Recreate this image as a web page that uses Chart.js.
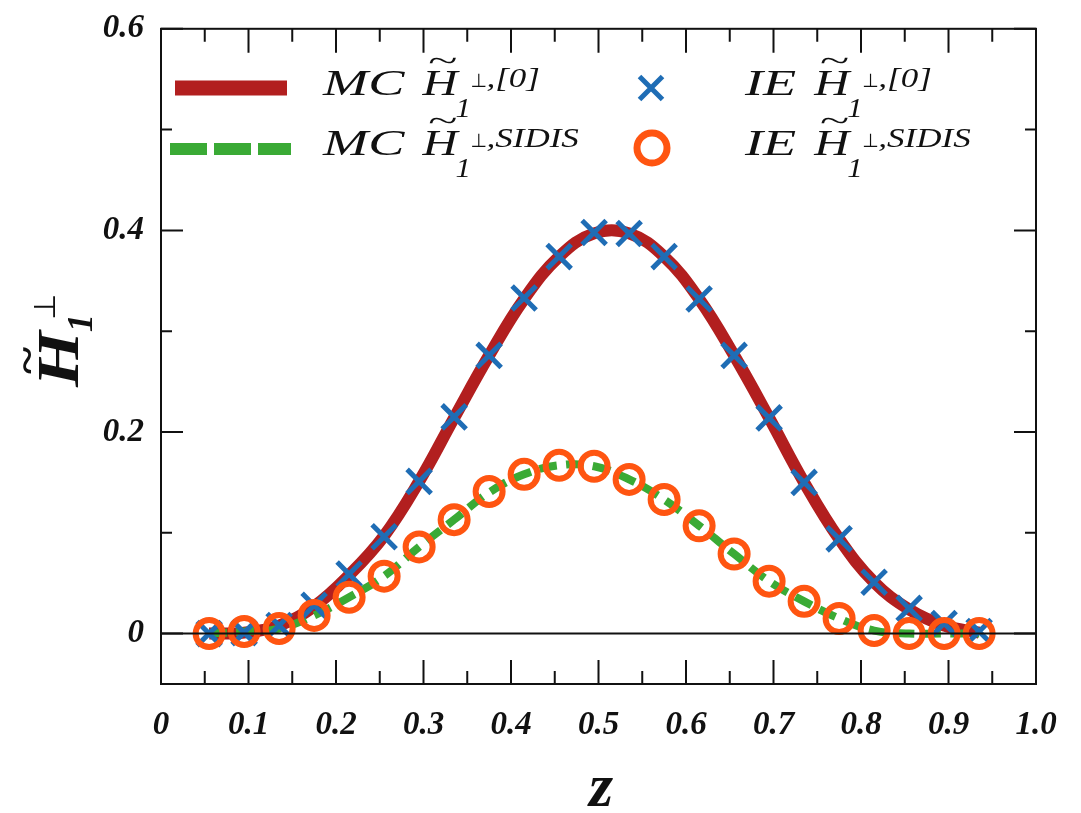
<!DOCTYPE html>
<html>
<head>
<meta charset="utf-8">
<script src="https://cdn.jsdelivr.net/npm/chart.js@4.4.1/dist/chart.umd.min.js"></script>
<style>
  html, body { margin: 0; padding: 0; background: #fff; }
</style>
</head>
<body>
<canvas id="grafico" width="1081" height="813"></canvas>
<script>
// z grid of the points
const zValores = [0.055, 0.095, 0.135, 0.175, 0.215, 0.255, 0.295, 0.335, 0.375, 0.415, 0.455, 0.495,
                  0.535, 0.575, 0.615, 0.655, 0.695, 0.735, 0.775, 0.815, 0.855, 0.895, 0.935];

// MC curves (lines)
const mcH0    = [0.000, 0.001, 0.008, 0.027, 0.058, 0.097, 0.151, 0.214, 0.276, 0.332, 0.374, 0.397,
                 0.397, 0.374, 0.332, 0.276, 0.214, 0.150, 0.094, 0.051, 0.024, 0.008, 0.001];
const mcSidis = [0.000, 0.002, 0.005, 0.018, 0.036, 0.057, 0.086, 0.113, 0.140, 0.158, 0.167, 0.166,
                 0.153, 0.133, 0.107, 0.079, 0.052, 0.032, 0.015, 0.003, 0.000, 0.000, 0.000];

// IE points (markers)
const ieH0    = [0.000, 0.001, 0.008, 0.028, 0.059, 0.096, 0.151, 0.215, 0.276, 0.333, 0.374, 0.398,
                 0.397, 0.374, 0.332, 0.276, 0.214, 0.150, 0.094, 0.051, 0.025, 0.010, 0.002];
const ieSidis = [0.000, 0.002, 0.005, 0.018, 0.036, 0.057, 0.086, 0.113, 0.141, 0.158, 0.167, 0.166,
                 0.153, 0.133, 0.107, 0.079, 0.052, 0.032, 0.015, 0.003, 0.000, 0.000, 0.000];

// axes
const xTicks = [0, 0.1, 0.2, 0.3, 0.4, 0.5, 0.6, 0.7, 0.8, 0.9, 1.0];
const xTickLabels = ['0', '0.1', '0.2', '0.3', '0.4', '0.5', '0.6', '0.7', '0.8', '0.9', '1.0'];
const xMinor = [0.05, 0.15, 0.25, 0.35, 0.45, 0.55, 0.65, 0.75, 0.85, 0.95];
const yTicks = [0, 0.2, 0.4, 0.6];
const yTickLabels = ['0', '0.2', '0.4', '0.6'];
const yMinor = [0.1, 0.3, 0.5];

const serif = '"Liberation Serif", "Times New Roman", serif';

const pontos = ys => zValores.map((z, i) => ({ x: z, y: ys[i] }));

// draws text with a horizontal stretch, returns drawn width
function texto(ctx, txt, x, y, font, sx) {
  ctx.save();
  ctx.font = font;
  ctx.translate(x, y);
  ctx.scale(sx, 1);
  ctx.fillText(txt, 0, 0);
  const w = ctx.measureText(txt).width * sx;
  ctx.restore();
  return w;
}

// "MC H~_1^{⊥,sup}" legend label
function rotuloH(ctx, x, y, prefixo, sup) {
  let cx = x;
  cx += texto(ctx, prefixo, cx, y, 'italic 35px ' + serif, 1.55);
  cx += 18;
  const wH = texto(ctx, 'H', cx, y, 'italic 36px ' + serif, 1.35);
  texto(ctx, '~', cx + 5, y - 24, 'italic 30px ' + serif, 1.8);
  const xSub = cx + wH - 2;
  texto(ctx, '1', xSub, y + 22, 'italic 28px ' + serif, 1.1);
  texto(ctx, '\u22A5', xSub + 15, y - 8, '19px "DejaVu Sans"', 1);
  texto(ctx, sup, xSub + 31, y - 8, 'italic 28px ' + serif, 1.25);
}

const molduraPlugin = {
  id: 'moldura',
  afterDatasetsDraw(chart) {
    const { ctx, chartArea: a, scales: { x, y } } = chart;
    ctx.save();
    ctx.strokeStyle = '#111';

    // zero line
    ctx.lineWidth = 2;
    const y0 = y.getPixelForValue(0);
    ctx.beginPath();
    ctx.moveTo(a.left, y0);
    ctx.lineTo(a.right, y0);
    ctx.stroke();

    // inward ticks on all sides
    const tique = (vals, len, eixo) => {
      vals.forEach(v => {
        ctx.beginPath();
        if (eixo === 'x') {
          const px = x.getPixelForValue(v);
          ctx.moveTo(px, a.bottom); ctx.lineTo(px, a.bottom - len);
          ctx.moveTo(px, a.top); ctx.lineTo(px, a.top + len);
        } else {
          const py = y.getPixelForValue(v);
          ctx.moveTo(a.left, py); ctx.lineTo(a.left + len, py);
          ctx.moveTo(a.right, py); ctx.lineTo(a.right - len, py);
        }
        ctx.stroke();
      });
    };
    tique(xTicks, 24, 'x');
    tique(xMinor, 13, 'x');
    tique(yTicks, 22, 'y');
    tique(yMinor, 11, 'y');

    ctx.lineWidth = 2;
    ctx.strokeRect(a.left, a.top, a.right - a.left, a.bottom - a.top);
    ctx.restore();
  },
  afterDraw(chart) {
    const ctx = chart.ctx;
    ctx.save();
    ctx.fillStyle = '#111';
    ctx.textAlign = 'left';
    ctx.textBaseline = 'alphabetic';

    // legend swatches
    ctx.lineCap = 'butt';
    ctx.strokeStyle = '#b21f1f';
    ctx.lineWidth = 15;
    ctx.beginPath(); ctx.moveTo(175, 88); ctx.lineTo(287, 88); ctx.stroke();

    ctx.strokeStyle = '#3aaa35';
    ctx.lineWidth = 12;
    ctx.setLineDash([37, 7]);
    ctx.beginPath(); ctx.moveTo(170, 149); ctx.lineTo(291, 149); ctx.stroke();
    ctx.setLineDash([]);

    ctx.strokeStyle = '#1f6db5';
    ctx.lineWidth = 5;
    const c = 11.5;
    ctx.beginPath();
    ctx.moveTo(651 - c, 88 - c); ctx.lineTo(651 + c, 88 + c);
    ctx.moveTo(651 - c, 88 + c); ctx.lineTo(651 + c, 88 - c);
    ctx.stroke();

    ctx.strokeStyle = '#ff5511';
    ctx.lineWidth = 7;
    ctx.beginPath(); ctx.arc(652, 148, 15, 0, Math.PI * 2); ctx.stroke();

    // legend texts
    rotuloH(ctx, 323, 95, 'MC', ',[0]');
    rotuloH(ctx, 323, 155, 'MC', ',SIDIS');
    rotuloH(ctx, 745, 95, 'IE', ',[0]');
    rotuloH(ctx, 745, 155, 'IE', ',SIDIS');

    // y axis title, rotated
    ctx.save();
    ctx.translate(78, 387);
    ctx.rotate(-Math.PI / 2);
    texto(ctx, 'H', 0, 0, 'bold italic 60px ' + serif, 1.2);
    texto(ctx, '~', 13, -38, 'bold 40px ' + serif, 1.3);
    texto(ctx, '1', 55, 14, 'bold italic 36px ' + serif, 1);
    texto(ctx, '\u22A5', 67, -23, '30px "DejaVu Sans"', 1);
    ctx.restore();

    // x axis title
    ctx.textAlign = 'center';
    ctx.font = 'bold italic 62px ' + serif;
    ctx.fillText('z', 601, 806);
    ctx.restore();
  }
};

const fonteTique = { family: serif, size: 33, weight: 'bold', style: 'italic' };

const ctx = document.getElementById('grafico').getContext('2d');

new Chart(ctx, {
  type: 'line',
  data: {
    datasets: [
      {
        label: 'MC H0',
        data: pontos(mcH0),
        borderColor: '#b21f1f',
        borderWidth: 12,
        pointRadius: 0,
        tension: 0.4,
        fill: false,
        order: 4
      },
      {
        label: 'MC SIDIS',
        data: pontos(mcSidis),
        borderColor: '#3aaa35',
        borderWidth: 8,
        borderDash: [18, 9],
        pointRadius: 0,
        tension: 0.4,
        fill: false,
        order: 3
      },
      {
        label: 'IE H0',
        data: pontos(ieH0),
        showLine: false,
        pointStyle: 'crossRot',
        pointRadius: 17,
        pointBorderWidth: 5,
        borderColor: '#1f6db5',
        pointBorderColor: '#1f6db5',
        order: 2
      },
      {
        label: 'IE SIDIS',
        data: pontos(ieSidis),
        showLine: false,
        pointStyle: 'circle',
        pointRadius: 13.5,
        pointBorderWidth: 6,
        borderColor: '#ff5511',
        pointBorderColor: '#ff5511',
        pointBackgroundColor: 'rgba(0,0,0,0)',
        order: 1
      }
    ]
  },
  options: {
    responsive: false,
    animation: false,
    layout: { padding: { top: 22, right: 45, bottom: 0, left: 0 } },
    plugins: {
      legend: { display: false },
      tooltip: { enabled: false }
    },
    scales: {
      x: {
        type: 'linear',
        min: 0,
        max: 1,
        afterBuildTicks: s => { s.ticks = xTicks.map(v => ({ value: v })); },
        afterFit: s => { s.height = 129; },
        ticks: {
          callback: v => xTickLabels[xTicks.indexOf(v)],
          font: fonteTique,
          color: '#111',
          padding: 14,
          maxRotation: 0,
          autoSkip: false
        },
        grid: { display: false },
        border: { display: false }
      },
      y: {
        type: 'linear',
        min: -0.05,
        max: 0.6,
        afterBuildTicks: s => { s.ticks = yTicks.map(v => ({ value: v })); },
        afterFit: s => { s.width = 161; },
        ticks: {
          callback: v => yTickLabels[yTicks.indexOf(v)],
          font: fonteTique,
          color: '#111',
          padding: 9,
          autoSkip: false
        },
        grid: { display: false },
        border: { display: false }
      }
    }
  },
  plugins: [molduraPlugin]
});
</script>
</body>
</html>
